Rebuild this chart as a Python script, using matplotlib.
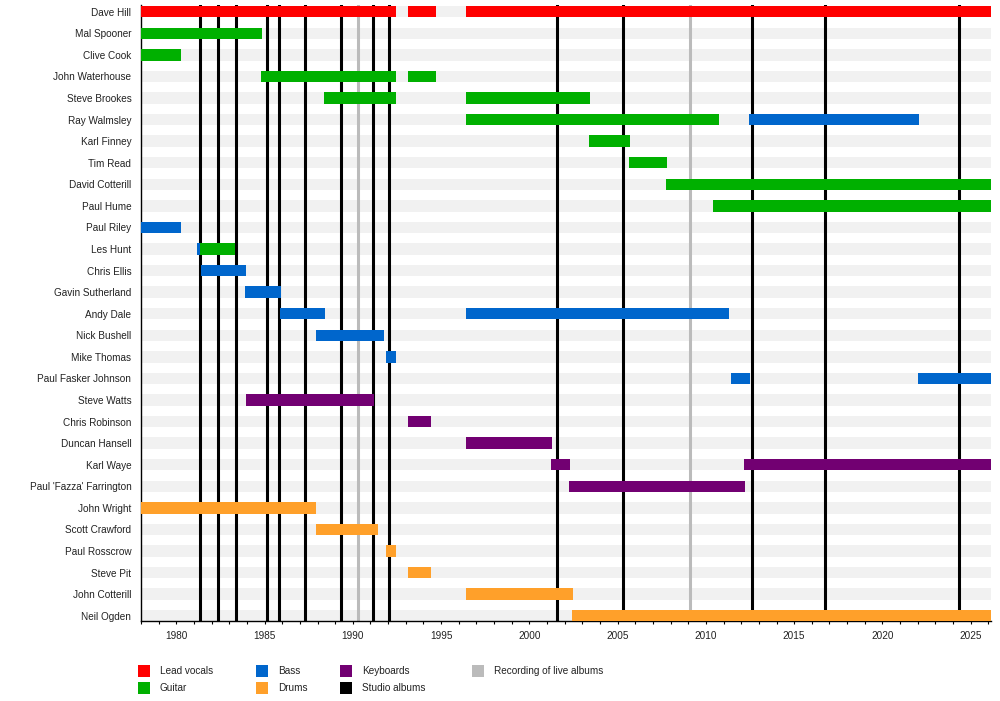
import matplotlib
matplotlib.use("Agg")
import matplotlib.pyplot as plt
from matplotlib.patches import Rectangle
from matplotlib.ticker import MultipleLocator

plt.rcParams["font.family"] = ["Liberation Sans", "DejaVu Sans"]

START = 1978.0
END = 2026.15

members = [
    "Dave Hill", "Mal Spooner", "Clive Cook", "John Waterhouse", "Steve Brookes",
    "Ray Walmsley", "Karl Finney", "Tim Read", "David Cotterill", "Paul Hume",
    "Paul Riley", "Les Hunt", "Chris Ellis", "Gavin Sutherland", "Andy Dale",
    "Nick Bushell", "Mike Thomas", "Paul Fasker Johnson", "Steve Watts",
    "Chris Robinson", "Duncan Hansell", "Karl Waye", "Paul 'Fazza' Farrington",
    "John Wright", "Scott Crawford", "Paul Rosscrow", "Steve Pit",
    "John Cotterill", "Neil Ogden",
]

# (member, from, to)
vocals = [
    ("Dave Hill", START, 1992.45), ("Dave Hill", 1993.13, 1994.71),
    ("Dave Hill", 1996.41, END),
]
guitar = [
    ("Mal Spooner", START, 1984.86), ("Clive Cook", START, 1980.27),
    ("John Waterhouse", 1984.8, 1992.45), ("John Waterhouse", 1993.13, 1994.71),
    ("Steve Brookes", 1988.37, 1992.45), ("Steve Brookes", 1996.41, 2003.44),
    ("Ray Walmsley", 1996.41, 2010.75), ("Karl Finney", 2003.38, 2005.7),
    ("Tim Read", 2005.65, 2007.8), ("David Cotterill", 2007.75, END),
    ("Paul Hume", 2010.4, END), ("Les Hunt", 1981.34, 1983.3),
]
bass = [
    ("Ray Walmsley", 2012.45, 2022.08), ("Paul Riley", START, 1980.27),
    ("Les Hunt", 1981.2, 1981.34), ("Chris Ellis", 1981.4, 1983.95),
    ("Gavin Sutherland", 1983.9, 1985.93), ("Andy Dale", 1985.87, 1988.4),
    ("Andy Dale", 1996.41, 2011.3), ("Nick Bushell", 1987.9, 1991.77),
    ("Mike Thomas", 1991.9, 1992.45), ("Paul Fasker Johnson", 2011.43, 2012.5),
    ("Paul Fasker Johnson", 2022.02, END),
]
keyboards = [
    ("Steve Watts", 1983.95, 1991.2), ("Chris Robinson", 1993.13, 1994.43),
    ("Duncan Hansell", 1996.41, 2001.29), ("Karl Waye", 2001.23, 2002.3),
    ("Karl Waye", 2012.17, END), ("Paul 'Fazza' Farrington", 2002.25, 2012.22),
]
drums = [
    ("John Wright", START, 1987.92), ("Scott Crawford", 1987.92, 1991.43),
    ("Paul Rosscrow", 1991.9, 1992.45), ("Steve Pit", 1993.13, 1994.43),
    ("John Cotterill", 1996.41, 2002.47), ("Neil Ogden", 2002.42, END),
]
studio_albums = [1981.34, 1982.38, 1983.37, 1985.16, 1985.84, 1987.31, 1989.35,
                 1991.16, 1992.07, 2001.59, 2005.33, 2012.63, 2016.77, 2024.33]
live_albums = [1990.31, 2009.12]

colors = {
    "Lead vocals": "#ff0000", "Guitar": "#00b000", "Bass": "#0066cc",
    "Drums": "#ffa02a", "Keyboards": "#720072",
    "Studio albums": "#000000", "Recording of live albums": "#bbbbbb",
}

fig = plt.figure(figsize=(10, 7.01), dpi=100)
ax = fig.add_axes([0.141, 1 - 621 / 701, 0.85, 616 / 701])

row = {name: i for i, name in enumerate(members)}
BAR_H = 0.53

for i in range(len(members)):
    ax.barh(i, END - START, left=START, height=BAR_H, color="#f1f1f1", zorder=1)

for x in studio_albums:
    ax.axvline(x, color=colors["Studio albums"], lw=2.2, zorder=2)
for x in live_albums:
    ax.axvline(x, color=colors["Recording of live albums"], lw=2.2, zorder=2)

for label, spans in [("Lead vocals", vocals), ("Guitar", guitar), ("Bass", bass),
                     ("Keyboards", keyboards), ("Drums", drums)]:
    for name, s, e in spans:
        ax.barh(row[name], e - s, left=s, height=BAR_H, color=colors[label], zorder=3)

ax.set_xlim(START, END)
ax.set_ylim(28.245, -0.31)
ax.set_yticks(range(len(members)))
ax.set_yticklabels(members, fontsize=7.2, color="#222222")
ax.tick_params(axis="y", length=0, pad=7)
ax.xaxis.set_major_locator(MultipleLocator(5))
ax.xaxis.set_minor_locator(MultipleLocator(1))
ax.tick_params(axis="x", which="major", length=2.5, width=0.8, labelsize=7.2,
               labelcolor="#222222", pad=5)
ax.tick_params(axis="x", which="minor", length=2.5, width=0.8)
for side in ["top", "right"]:
    ax.spines[side].set_visible(False)
for side in ["left", "bottom"]:
    ax.spines[side].set_linewidth(1.0)

# legend below the chart
legend_items = [
    ("Lead vocals", 138, 671), ("Guitar", 138, 688),
    ("Bass", 256, 671), ("Drums", 256, 688),
    ("Keyboards", 340, 671), ("Studio albums", 340, 688),
    ("Recording of live albums", 472, 671),
]
for label, px, py in legend_items:
    fig.add_artist(Rectangle((px / 1000, 1 - (py + 6) / 701), 12 / 1000, 12 / 701,
                             transform=fig.transFigure, color=colors[label], lw=0))
    fig.text((px + 22) / 1000, 1 - py / 701, label, fontsize=7.2, color="#222222",
             va="center", ha="left")

fig.savefig("out.png", dpi=100)
